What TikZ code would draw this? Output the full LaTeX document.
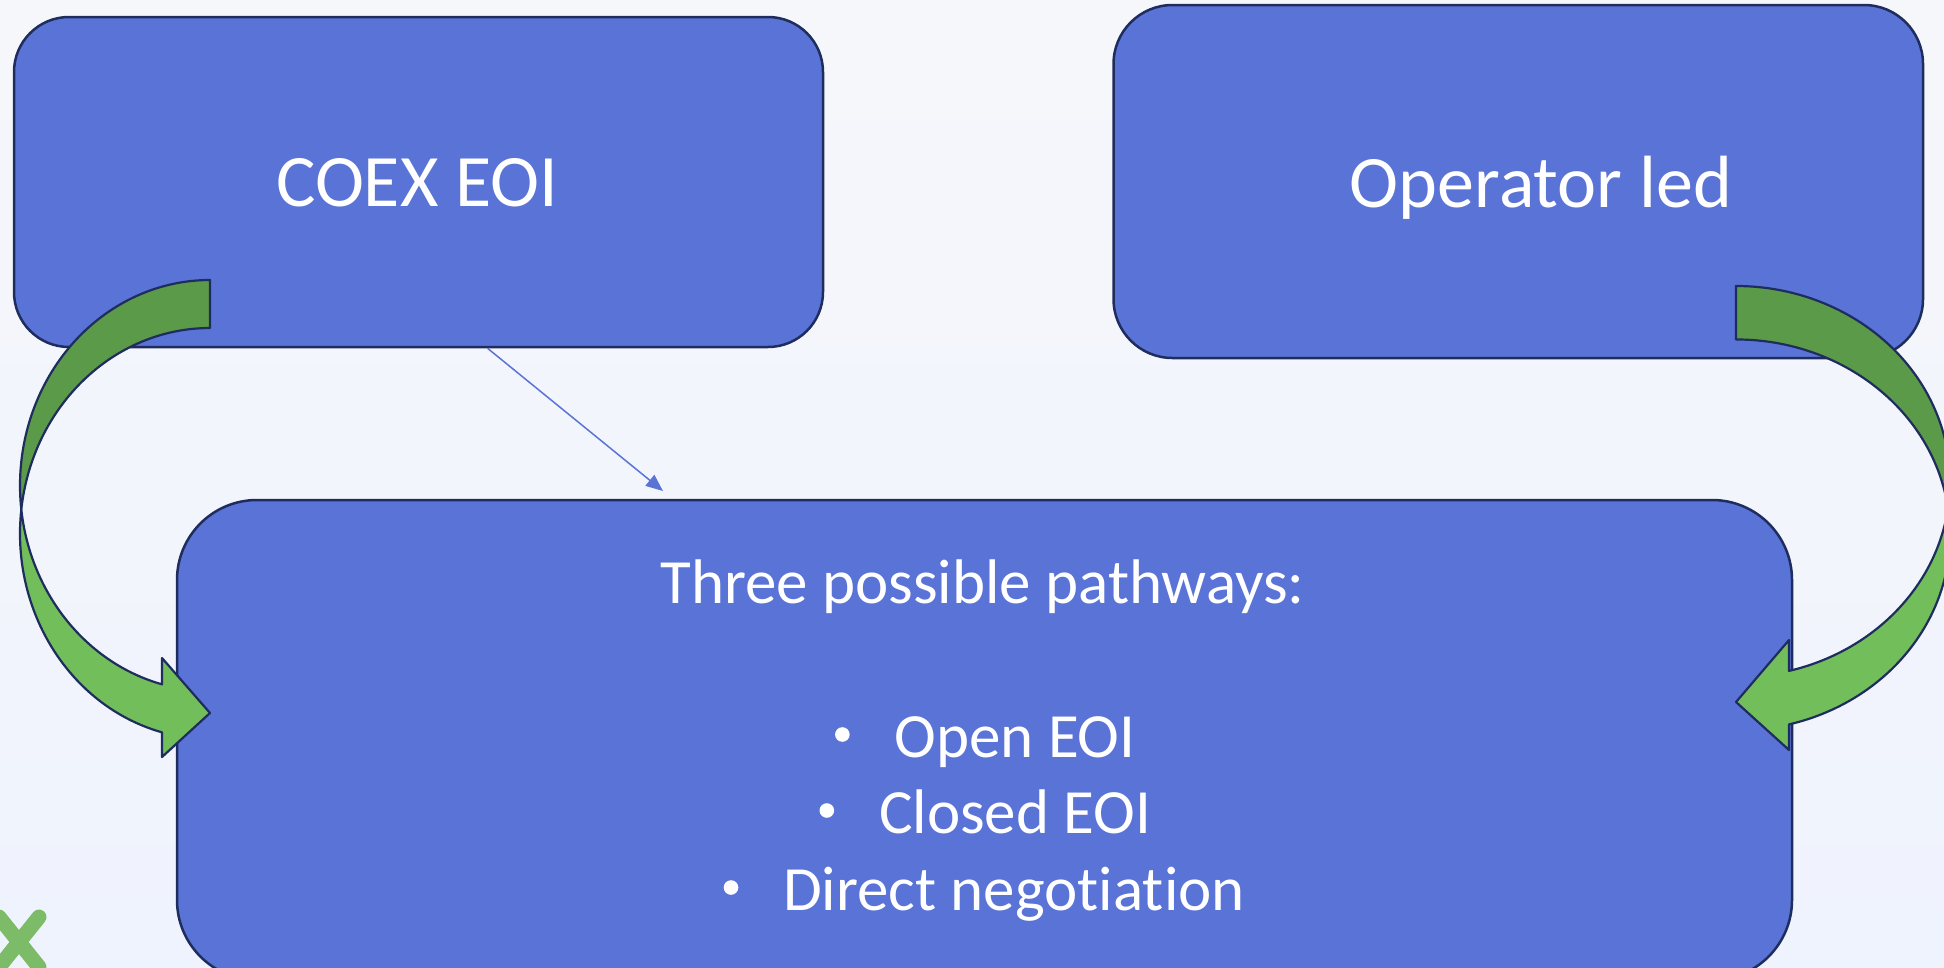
\documentclass[tikz,border=0pt]{standalone}
\usepackage{fontspec}
\setmainfont{Carlito}[Ligatures=NoCommon]
\usetikzlibrary{arrows.meta,calc}
\definecolor{boxblue}{HTML}{5A73D6}
\definecolor{boxline}{HTML}{1F2D5E}
\definecolor{arrowdark}{HTML}{5B9A49}
\definecolor{arrowlight}{HTML}{72BE5A}
\definecolor{markgreen}{HTML}{7CBC68}
\definecolor{bgtop}{HTML}{F6F7FB}
\definecolor{bgbot}{HTML}{EFF3FD}
\begin{document}
\begin{tikzpicture}[x=1pt,y=-1pt,
  panel/.style={draw=boxline, line width=2.5pt, fill=boxblue,
                rounded corners=#1, inner sep=0pt},
  panel/.default=55pt,
  titletext/.style={text=white, inner sep=0pt,
                    font=\fontsize{74pt}{88pt}\selectfont},
  bodytext/.style={text=white, inner sep=0pt,
                   font=\fontsize{63pt}{76pt}\selectfont},
  bandback/.style={draw=boxline, line width=2.2pt, fill=arrowdark, line join=round},
  bandfront/.style={draw=boxline, line width=2.2pt, fill=arrowlight, line join=round},
  linkarrow/.style={draw=boxblue, line width=1.5pt,
                    -{Triangle[length=17pt,width=14pt]}},
  bulletdot/.style={fill=white}
]
\useasboundingbox (0,0) rectangle (1944,967);
% page background
\shade[top color=bgtop, bottom color=bgbot] (0,0) rectangle (1944,967);
\clip (0,0) rectangle (1944,967);

% corner mark
\draw[markgreen, line width=15pt, line cap=round] (39,917) -- (-1,967);
\draw[markgreen, line width=15pt, line cap=round] (-1,917) -- (39,967);

% the three panels
\node[panel=55pt, minimum width=809pt, minimum height=330pt] (coex) at (418.5,182) {};
\node[panel=59pt, minimum width=809.5pt, minimum height=353pt] (oper) at (1518.25,181.5) {};
\node[panel=80pt, minimum width=1615pt, minimum height=480pt] (paths) at (984.5,740) {};

% panel texts
\node[titletext, anchor=base] (coextext) at (417,206) {COEX EOI};
\node[titletext, anchor=base] (opertext) at (1541,207) {Operator led};
\node[bodytext, anchor=base] (pathhead) at (982.5,603) {Three possible pathways:};
\node[bodytext, anchor=base] (pathone) at (1015,757) {Open EOI};
\node[bodytext, anchor=base] (pathtwo) at (1015,833) {Closed EOI};
\node[bodytext, anchor=base] (paththree) at (1014,910) {Direct negotiation};
\foreach \p in {pathone,pathtwo,paththree}
  \fill[bulletdot] ($(\p.base west)+(-52,-22.5)$) circle (7.3);

% thin link from the first panel down towards the pathways panel
\coordinate (linkstart) at ($(coex.south)+(69,0)$);
\coordinate (linkend) at (663,491);
\draw[linkarrow] (linkstart) -- (linkend);

% left curved arrow (tail at top, head pointing right)
\path[bandback] (210,280)
  arc[start angle=270, end angle=173.29, x radius=190, y radius=205.5]
  arc[start angle=186.71, end angle=270, x radius=190, y radius=205.5]
  -- cycle;
\path[bandfront] ($(210,533.5)+(186.71:190 and 205.5)$)
  arc[start angle=186.71, end angle=104.63, x radius=190, y radius=205.5]
  -- (162,757) -- (210,713) -- (162,658) -- ($(210,485.5)+(104.63:190 and 205.5)$)
  arc[start angle=104.63, end angle=173.29, x radius=190, y radius=205.5]
  -- cycle;

% right curved arrow (tail at top, head pointing left)
\path[bandback] (1736,286)
  arc[start angle=-90, end angle=7.86, x radius=214, y radius=195.5]
  arc[start angle=-7.86, end angle=-90, x radius=214, y radius=195.5]
  -- cycle;
\path[bandfront] ($(1736,535)+(-7.86:214 and 195.5)$)
  arc[start angle=-7.86, end angle=75.66, x radius=214, y radius=195.5]
  -- (1789,750) -- (1736,702) -- (1789,640) -- ($(1736,481.5)+(75.66:214 and 195.5)$)
  arc[start angle=75.66, end angle=7.86, x radius=214, y radius=195.5]
  -- cycle;
\end{tikzpicture}
\end{document}
